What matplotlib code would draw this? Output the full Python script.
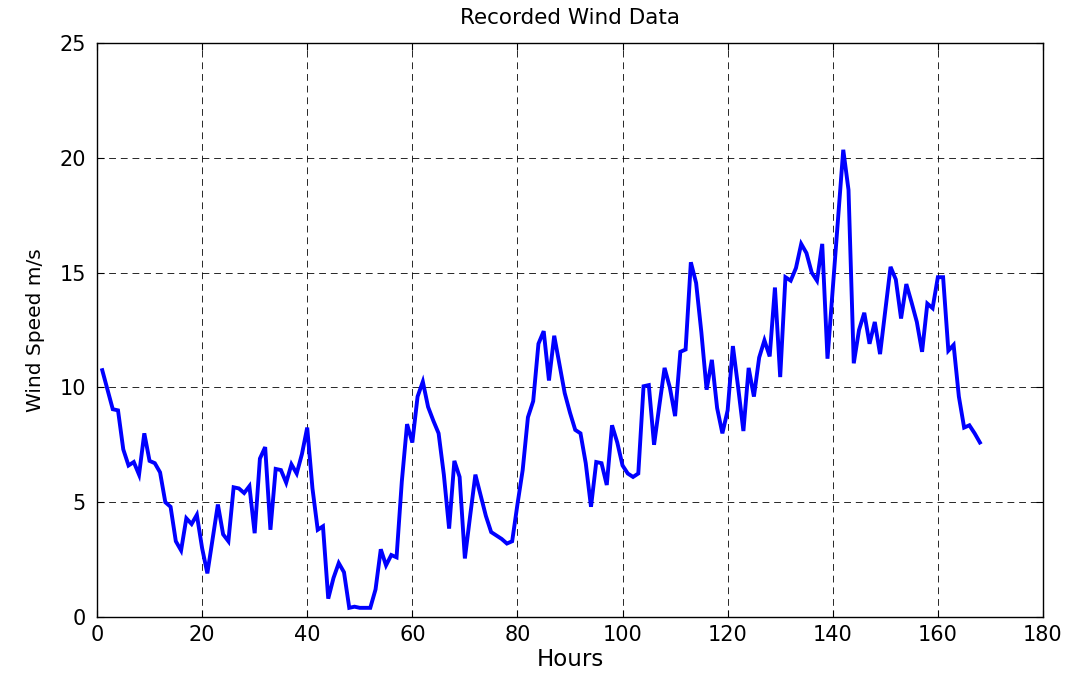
import matplotlib
matplotlib.use('Agg')
import matplotlib.pyplot as plt

# hourly wind speed record, one value per hour (m/s)
hours = list(range(1, 169))
speed = [
    10.75, 9.9, 9.05, 9.0, 7.3, 6.6, 6.75, 6.2, 8.0, 6.8, 6.7, 6.3,
    5.0, 4.8, 3.3, 2.9, 4.3, 4.05, 4.45, 3.0, 1.9, 3.4, 4.9, 3.6,
    3.3, 5.65, 5.6, 5.4, 5.7, 3.65, 6.9, 7.4, 3.8, 6.45, 6.4, 5.85,
    6.65, 6.25, 7.1, 8.25, 5.6, 3.8, 3.95, 0.8, 1.7, 2.35, 1.95, 0.4,
    0.45, 0.4, 0.4, 0.4, 1.2, 2.95, 2.25, 2.7, 2.6, 5.9, 8.4, 7.6,
    9.6, 10.25, 9.15, 8.55, 8.0, 6.2, 3.85, 6.8, 6.1, 2.55, 4.4, 6.2,
    5.3, 4.4, 3.7, 3.55, 3.4, 3.2, 3.3, 4.9, 6.4, 8.7, 9.4, 11.9,
    12.45, 10.3, 12.25, 11.0, 9.75, 8.9, 8.15, 8.0, 6.7, 4.8, 6.75, 6.7,
    5.75, 8.35, 7.6, 6.6, 6.25, 6.1, 6.25, 10.05, 10.1, 7.5, 9.2, 10.85,
    10.0, 8.75, 11.55, 11.65, 15.45, 14.55, 12.4, 9.9, 11.2, 9.1, 8.0, 9.0,
    11.8, 10.0, 8.1, 10.85, 9.6, 11.3, 12.05, 11.35, 14.35, 10.45, 14.8, 14.65,
    15.2, 16.25, 15.85, 15.0, 14.65, 16.25, 11.25, 14.3, 17.35, 20.35, 18.6, 11.05,
    12.5, 13.25, 11.9, 12.85, 11.45, 13.35, 15.25, 14.7, 13.0, 14.5, 13.7, 12.85,
    11.55, 13.65, 13.45, 14.8, 14.8, 11.6, 11.85, 9.6, 8.25, 8.35, 8.0, 7.6,
]
xticks = list(range(0, 181, 20))
yticks = list(range(0, 26, 5))

plt.rcParams['font.family'] = ['DejaVu Sans']

fig = plt.figure(figsize=(10.73, 6.77), dpi=100)
ax = fig.add_axes([0.0904, 0.0886, 0.8816, 0.8479])

ax.plot(hours, speed, color='#0000ff', linewidth=2.8, solid_joinstyle='miter')

ax.set_xlim(0, 180)
ax.set_ylim(0, 25)
ax.set_xticks(xticks)
ax.set_yticks(yticks)
ax.grid(True, color='black', linewidth=0.7, dashes=(7, 5), alpha=0.85)
ax.tick_params(direction='in', top=True, right=True, length=5, width=0.8,
               labelsize=15)
ax.tick_params(axis='x', pad=6)
ax.tick_params(axis='y', pad=8)
for s in ax.spines.values():
    s.set_linewidth(1.0)

ax.set_title('Recorded Wind Data', fontsize=15.5, pad=14)
ax.set_xlabel('Hours', fontsize=16.5, labelpad=2)
ax.set_ylabel('Wind Speed m/s', fontsize=14.5, labelpad=10)

fig.savefig('out.png', dpi=100)
